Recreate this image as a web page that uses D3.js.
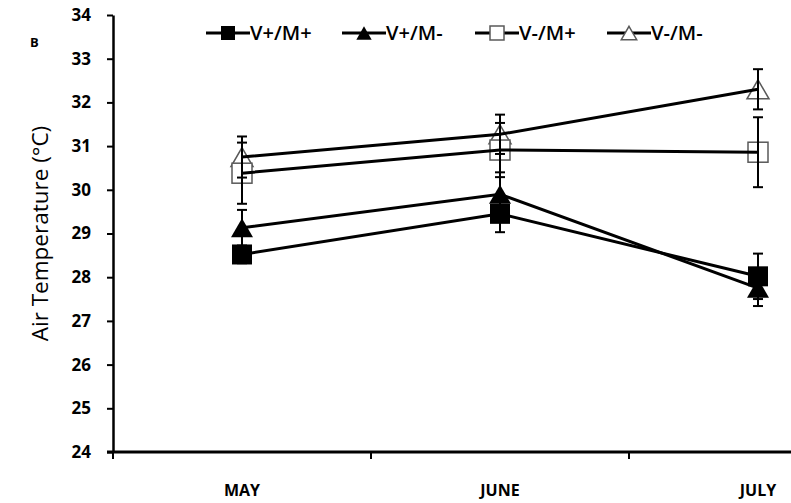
<!DOCTYPE html>
<html>
<head>
<meta charset="utf-8">
<script src="https://cdn.jsdelivr.net/npm/d3@7"></script>
<style>
  body { margin: 0; background: #fff; }
  svg { display: block; }
</style>
</head>
<body>
<div id="chart"></div>
<script>
let months = ['MAY', 'JUNE', 'JULY'];
let yTicks = [24, 25, 26, 27, 28, 29, 30, 31, 32, 33, 34];

let names = ['V+/M+', 'V+/M-', 'V-/M+', 'V-/M-'];
let shapes = ['square', 'triangle', 'square', 'triangle'];
let filled = [true, true, false, false];

let meanVpMp = [28.52, 29.45, 28.02];
let meanVpMm = [29.13, 29.90, 27.75];
let meanVmMp = [30.38, 30.91, 30.86];
let meanVmMm = [30.75, 31.27, 32.30];

let errVpMp = [0.20, 0.42, 0.52];
let errVpMm = [0.41, 0.50, 0.41];
let errVmMp = [0.70, 0.62, 0.80];
let errVmMm = [0.47, 0.45, 0.46];

let means = [meanVpMp, meanVpMm, meanVmMp, meanVmMm];
let errs = [errVpMp, errVpMm, errVmMp, errVmMm];

function renderChart() {
    let width = 791;
    let height = 503;
    let margin = { top: 15, right: -96, bottom: 51, left: 113 };

    let series = names.map((n, i) => ({
        name: n,
        shape: shapes[i],
        filled: filled[i],
        values: months.map((m, j) => ({ month: m, mean: means[i][j], err: errs[i][j] }))
    }));

    let x = d3.scaleBand()
        .domain(months)
        .range([margin.left, width - margin.right]);

    let y = d3.scaleLinear()
        .domain([24, 34])
        .range([height - margin.bottom, margin.top]);

    const svg = d3.select('#chart')
        .append('svg')
        .attr('width', width)
        .attr('height', height);

    // y axis
    let yAxis = svg.append('g')
        .attr('transform', `translate(${margin.left},0)`)
        .call(d3.axisLeft(y).tickValues(yTicks).tickSize(6).tickPadding(16).tickSizeOuter(0));
    yAxis.select('.domain').attr('stroke', '#000').attr('stroke-width', 2.5);
    yAxis.selectAll('.tick line').attr('stroke', '#000').attr('stroke-width', 2);
    yAxis.selectAll('.tick text')
        .attr('fill', '#000')
        .style('font-family', '"Open Sans", sans-serif')
        .style('font-weight', 'bold')
        .style('font-size', '17px');

    // x axis: ticks at band boundaries
    let xg = svg.append('g')
        .attr('transform', `translate(0,${y(24)})`);
    xg.append('line')
        .attr('x1', margin.left - 6)
        .attr('x2', width - margin.right)
        .attr('stroke', '#000')
        .attr('stroke-width', 3);
    xg.selectAll('line.tk')
        .data(months)
        .join('line')
        .attr('class', 'tk')
        .attr('x1', d => x(d))
        .attr('x2', d => x(d))
        .attr('y1', 0)
        .attr('y2', 7)
        .attr('stroke', '#000')
        .attr('stroke-width', 2);
    xg.selectAll('text')
        .data(months)
        .join('text')
        .attr('x', d => x(d) + x.bandwidth() / 2)
        .attr('y', 44)
        .attr('text-anchor', 'middle')
        .style('font-family', '"Open Sans", sans-serif')
        .style('font-weight', 'bold')
        .style('font-size', '16px')
        .text(d => d);

    // axis title
    svg.append('text')
        .attr('transform', `translate(48,${(y(24) + y(34)) / 2}) rotate(-90)`)
        .attr('text-anchor', 'middle')
        .style('font-family', '"Open Sans", sans-serif')
        .style('font-size', '22.5px')
        .text('Air Temperature (°C)');

    svg.append('text')
        .attr('x', 30)
        .attr('y', 47)
        .style('font-family', '"Open Sans", sans-serif')
        .style('font-weight', 'bold')
        .style('font-size', '13px')
        .text('B');

    let cx = m => x(m) + x.bandwidth() / 2;

    let drawMarker = (g, s, px, py, size) => {
        if (s.shape === 'square') {
            g.append('rect')
                .attr('x', px - size / 2)
                .attr('y', py - size / 2)
                .attr('width', size)
                .attr('height', size)
                .attr('fill', s.filled ? '#000' : '#fff')
                .attr('stroke', s.filled ? '#000' : '#595959')
                .attr('stroke-width', s.filled ? 0 : 1.5);
        } else {
            let w = size * 1.1, h = size * 0.95;
            g.append('path')
                .attr('d', `M${px},${py - h / 2}L${px + w / 2},${py + h / 2}L${px - w / 2},${py + h / 2}Z`)
                .attr('fill', s.filled ? '#000' : '#fff')
                .attr('stroke', s.filled ? '#000' : '#595959')
                .attr('stroke-width', s.filled ? 0 : 1.5);
        }
    };

    // markers (triangles first, squares on top)
    let markG = svg.append('g');
    [3, 1, 2, 0].forEach(i => {
        let s = series[i];
        s.values.forEach(v => drawMarker(markG, s, cx(v.month), y(v.mean), 20));
    });

    // lines
    let line = d3.line()
        .x(d => cx(d.month))
        .y(d => y(d.mean));
    svg.append('g')
        .selectAll('path')
        .data(series)
        .join('path')
        .attr('d', d => line(d.values))
        .attr('fill', 'none')
        .attr('stroke', '#000')
        .attr('stroke-width', 3);

    // error bars
    let errG = svg.append('g');
    series.forEach(s => {
        s.values.forEach(v => {
            let px = cx(v.month);
            errG.append('line')
                .attr('x1', px).attr('x2', px)
                .attr('y1', y(v.mean + v.err)).attr('y2', y(v.mean - v.err))
                .attr('stroke', '#000').attr('stroke-width', 2);
            [v.mean + v.err, v.mean - v.err].forEach(e => {
                errG.append('line')
                    .attr('x1', px - 5).attr('x2', px + 5)
                    .attr('y1', y(e)).attr('y2', y(e))
                    .attr('stroke', '#000').attr('stroke-width', 2);
            });
        });
    });

    // legend
    let legX = [228, 364, 497, 629];
    let legY = 33;
    let leg = svg.append('g');
    series.forEach((s, i) => {
        leg.append('line')
            .attr('x1', legX[i] - 22).attr('x2', legX[i] + 22)
            .attr('y1', legY).attr('y2', legY)
            .attr('stroke', '#000').attr('stroke-width', 3);
        drawMarker(leg, s, legX[i], legY, 14);
        leg.append('text')
            .attr('x', legX[i] + 22)
            .attr('y', legY + 7)
            .style('font-family', '"Open Sans", sans-serif')
            .style('font-weight', '600')
            .style('font-size', '20px')
            .text(s.name);
    });
}

renderChart();
</script>
</body>
</html>
